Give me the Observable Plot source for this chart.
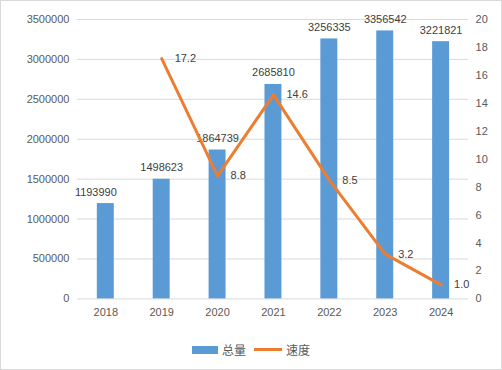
<!DOCTYPE html>
<html>
<head>
<meta charset="utf-8">
<script src="https://cdn.jsdelivr.net/npm/d3@7"></script>
<script src="https://cdn.jsdelivr.net/npm/@observablehq/plot@0.6"></script>
<style>
  html, body { margin: 0; padding: 0; background: #fff; }
  #wrap { position: relative; width: 502px; height: 370px; box-sizing: border-box; border: 1px solid #d9d9d9; background: #fff; font-family: "Liberation Sans", "Noto Sans CJK SC", sans-serif; }
  #chart { position: absolute; left: -1px; top: -1px; }
  #legend { position: absolute; left: 0; right: 0; top: 340px; display: flex; justify-content: center; align-items: center; font-size: 12px; color: #595959; font-family: "Noto Sans CJK SC", sans-serif; }
  .sw-bar { width: 26px; height: 8px; background: #5B9BD5; margin-right: 4px; }
  .sw-line { width: 28px; height: 3px; background: #ED7D31; margin-right: 4px; margin-left: 8px; }
</style>
</head>
<body>
<div id="wrap">
  <div id="chart"></div>
  <div id="legend"><span class="sw-bar"></span><span>总量</span><span class="sw-line"></span><span>速度</span></div>
</div>
<script>
const years = ["2018", "2019", "2020", "2021", "2022", "2023", "2024"];
const totals = [1193990, 1498623, 1864739, 2685810, 3256335, 3356542, 3221821];
const speedYears = ["2019", "2020", "2021", "2022", "2023", "2024"];
const speeds = [17.2, 8.8, 14.6, 8.5, 3.2, 1.0];
const leftTicks = [0, 500000, 1000000, 1500000, 2000000, 2500000, 3000000, 3500000];
const rightTicks = [0, 2, 4, 6, 8, 10, 12, 14, 16, 18, 20];

const leftMax = 3500000, rightMax = 20;
const k = leftMax / rightMax;

const bars = years.map((y, i) => ({year: y, total: totals[i]}));
const line = speedYears.map((y, i) => ({year: y, speed: speeds[i], ys: speeds[i] * k}));

const chart = Plot.plot({
  width: 502,
  height: 332,
  marginTop: 19,
  marginBottom: 33,
  marginLeft: 77,
  marginRight: 33,
  style: {fontFamily: "'Liberation Sans', sans-serif", fontSize: "11px", color: "#595959", background: "transparent"},
  x: {domain: years, paddingInner: 0.7, paddingOuter: 0.35, label: null},
  y: {domain: [0, leftMax], label: null},
  marks: [
    Plot.ruleY(leftTicks, {stroke: "#d9d9d9", strokeWidth: 1}),
    Plot.axisY(leftTicks, {tickSize: 0, tickPadding: 8, label: null, tickFormat: d => String(d), fill: "#595959"}),
    Plot.axisY(rightTicks.map(d => d * k), {anchor: "right", tickSize: 0, tickPadding: 7, label: null, tickFormat: d => String(Math.round(d / k)), fill: "#595959"}),
    Plot.axisX({tickSize: 0, tickPadding: 9, label: null, fill: "#595959"}),
    Plot.barY(bars, {x: "year", y: "total", fill: "#5B9BD5"}),
    Plot.text(bars.slice(0, 1), {x: "year", y: "total", text: d => String(d.total), lineAnchor: "bottom", dy: -8, dx: -10, fill: "#404040", fontSize: 11}),
    Plot.text(bars.slice(1), {x: "year", y: "total", text: d => String(d.total), lineAnchor: "bottom", dy: -8, fill: "#404040", fontSize: 11}),
    Plot.line(line, {x: "year", y: "ys", stroke: "#ED7D31", strokeWidth: 3, strokeLinejoin: "round", strokeLinecap: "round"}),
    Plot.text(line, {x: "year", y: "ys", text: d => d.speed.toFixed(1), textAnchor: "start", dx: 13, fill: "#404040", fontSize: 11})
  ]
});
document.getElementById("chart").appendChild(chart);
</script>
</body>
</html>
